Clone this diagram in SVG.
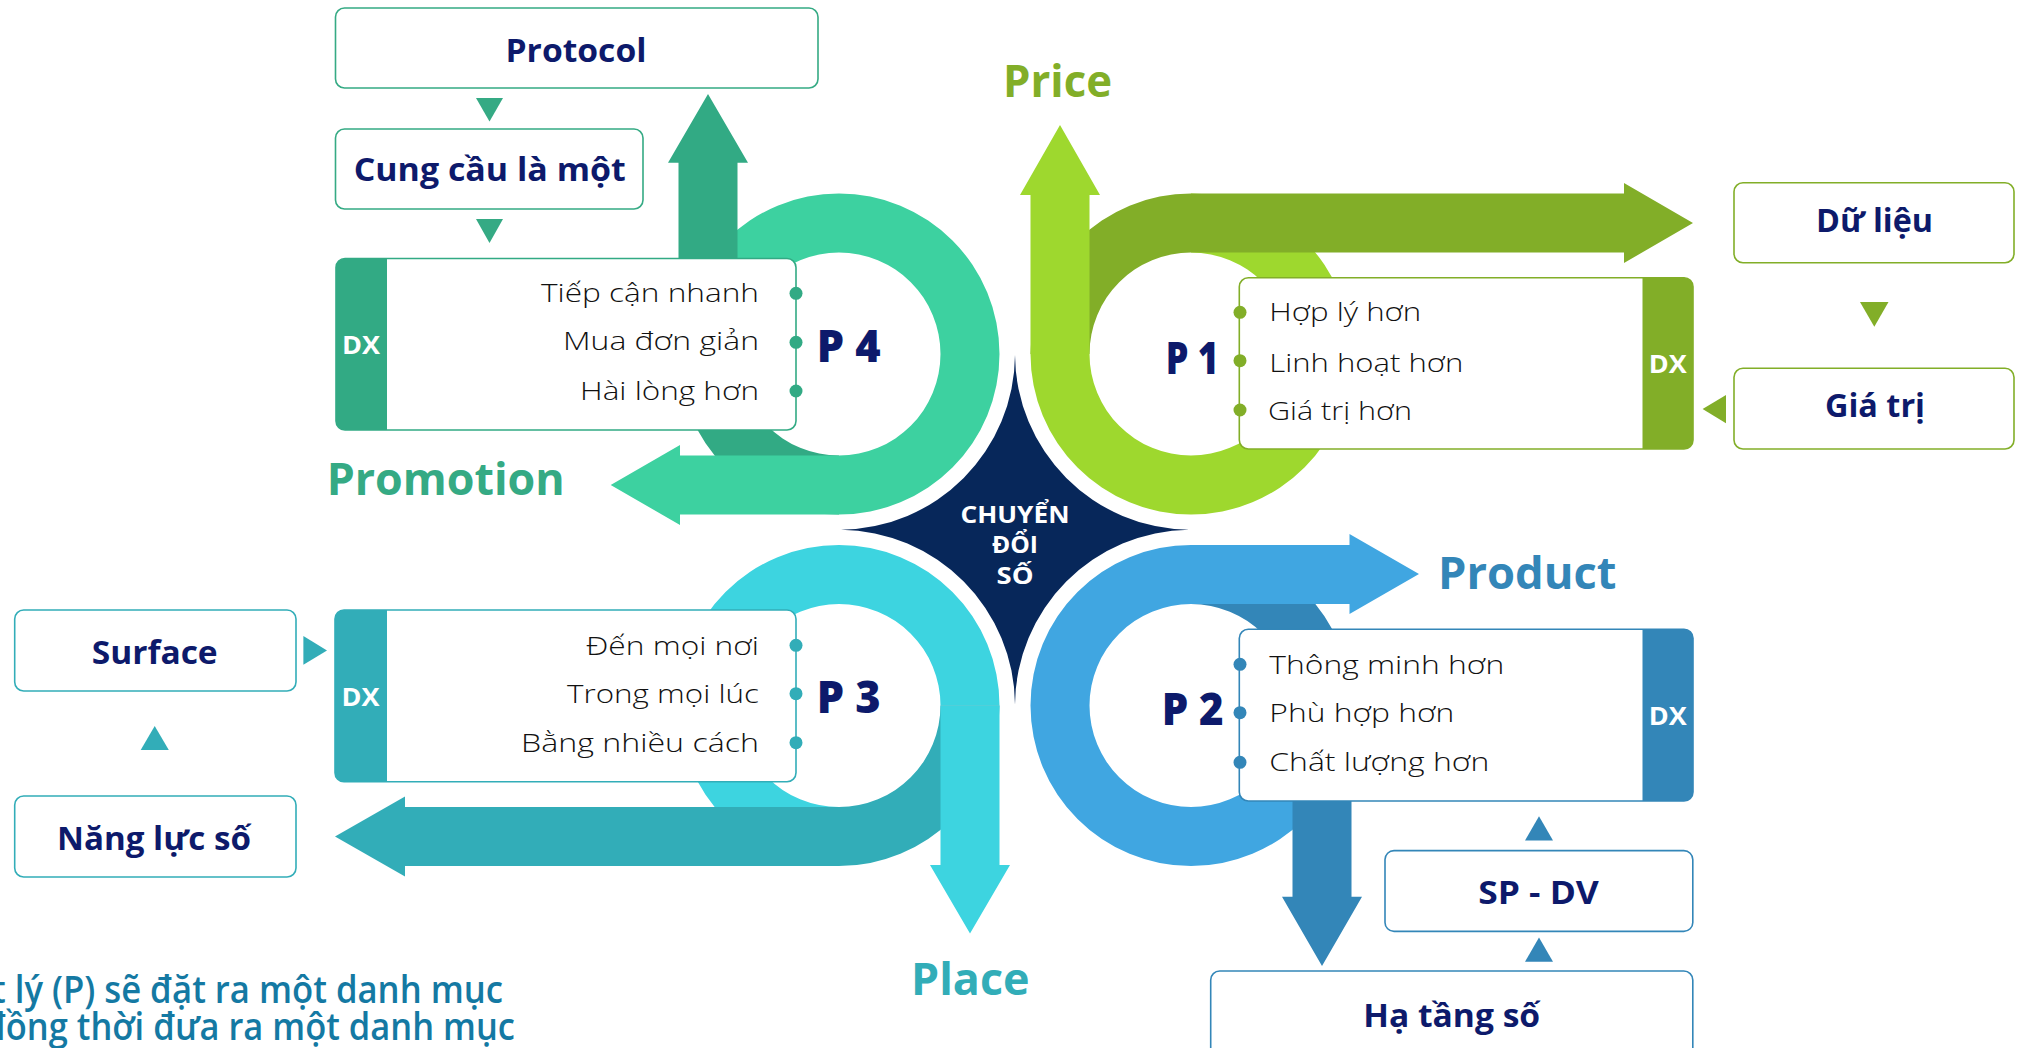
<svg xmlns="http://www.w3.org/2000/svg" width="2023" height="1048" viewBox="0 0 2023 1048">
<style>
text{font-family:"Open Sans","Liberation Sans",Arial,sans-serif}
.lbl{font-weight:700;font-size:33px;fill:#0d1a6b;text-anchor:middle}
.item{font-weight:300;font-size:26px;fill:#111}
.end{text-anchor:end}
.pl{font-weight:800;font-size:44px;fill:#0d1a6b}
.dx{font-weight:700;font-size:25px;fill:#fff;text-anchor:middle}
.big{font-weight:700;font-size:44px}
.ctr{font-weight:700;font-size:24px;fill:#fff;text-anchor:middle}
.note{font-weight:600;font-size:37px;fill:#1479a3}
.box{fill:#fff;stroke-width:1.6}
</style>
<rect width="2023" height="1048" fill="#fff"/>

<g id="ring-p4">
<path fill="#32aa84" d="M678.5,354 A160.5,160.5 0 0 0 839,514.5 L839,455.5 A101.5,101.5 0 0 1 737.5,354 Z"/>
<path fill="#3dd1a0" d="M678.5,354 A160.5,160.5 0 1 1 839,514.5 L680,514.5 L680,525 L610.7,485 L680,445 L680,455.5 L839,455.5 A101.5,101.5 0 1 0 737.5,354 Z"/>
<path fill="#32aa84" d="M678.5,354 V162.7 H668 L708,94 L748,162.7 H737.5 V354 Z"/>
</g>
<g id="ring-p1">
<path fill="#9ed82e" d="M1030.5,354 A160.5,160.5 0 1 0 1191,193.5 L1191,252.5 A101.5,101.5 0 1 1 1089.5,354 Z"/>
<path fill="#82ae28" d="M1030.5,354 A160.5,160.5 0 0 1 1191,193.5 H1624 V183 L1693,223 L1624,263 V252.5 H1191 A101.5,101.5 0 0 0 1089.5,354 Z"/>
<path fill="#9ed82e" d="M1030.5,354 V195 H1020 L1060,125 L1100,195 H1089.5 V354 Z"/>
</g>
<g id="ring-p3">
<path fill="#3dd4e0" d="M999.5,705.5 A160.5,160.5 0 1 0 839,866 L839,807 A101.5,101.5 0 1 1 940.5,705.5 Z"/>
<path fill="#32adb8" d="M999.5,705.5 A160.5,160.5 0 0 1 839,866 H405 V876.5 L335,836.5 L405,796.5 V807 H839 A101.5,101.5 0 0 0 940.5,705.5 Z"/>
<path fill="#3dd4e0" d="M940.5,705.5 V865 H930 L970,933.5 L1010,865 H999.5 V705.5 Z"/>
</g>
<g id="ring-p2">
<path fill="#3386b8" d="M1191,545 A160.5,160.5 0 0 1 1351.5,705.5 L1292.5,705.5 A101.5,101.5 0 0 0 1191,604 Z"/>
<path fill="#40a6e1" d="M1191,545 H1349.5 V534 L1419,574 L1349.5,614 V604 H1191 A101.5,101.5 0 1 0 1292.5,705.5 L1351.5,705.5 A160.5,160.5 0 1 1 1191,545 Z"/>
<path fill="#3386b8" d="M1292.5,705.5 V896.7 H1282 L1322,966 L1362,896.7 H1351.5 V705.5 Z"/>
</g>

<g id="center">
<path fill="#07275a" d="M1015,355 A176,176 0 0 1 841,529.75 A176,176 0 0 1 1015,704.5 A176,176 0 0 1 1189,529.75 A176,176 0 0 1 1015,355 Z"/>
<text class="ctr" x="1015" y="522.7" textLength="109" lengthAdjust="spacingAndGlyphs">CHUYỂN</text>
<text class="ctr" x="1015" y="553.3" textLength="46" lengthAdjust="spacingAndGlyphs">ĐỔI</text>
<text class="ctr" x="1015" y="584" textLength="37" lengthAdjust="spacingAndGlyphs">SỐ</text>
</g>

<g id="p4">
<rect class="box" x="336" y="258.5" width="460" height="171.5" rx="9" stroke="#32aa84"/>
<path fill="#32aa84" d="M345,258.5 H387 V430 H345 A9,9 0 0 1 336,421 V267.5 A9,9 0 0 1 345,258.5 Z"/>
<text class="dx" x="361" y="354" textLength="38" lengthAdjust="spacingAndGlyphs">DX</text>
<text class="item end" x="759" y="301.7" textLength="218" lengthAdjust="spacingAndGlyphs">Tiếp cận nhanh</text>
<text class="item end" x="759" y="350" textLength="196" lengthAdjust="spacingAndGlyphs">Mua đơn giản</text>
<text class="item end" x="759" y="400" textLength="179" lengthAdjust="spacingAndGlyphs">Hài lòng hơn</text>
<g fill="#32aa84"><circle cx="796" cy="293.3" r="6.5"/><circle cx="796" cy="342.3" r="6.5"/><circle cx="796" cy="391" r="6.5"/></g>
<text class="pl" x="816.7" y="361.7" textLength="64" lengthAdjust="spacingAndGlyphs">P 4</text>
</g>

<g id="p1">
<rect class="box" x="1239.3" y="277.7" width="453.7" height="171.3" rx="9" stroke="#82ae28"/>
<path fill="#82ae28" d="M1642.5,277.7 H1684 A9,9 0 0 1 1693,286.7 V440 A9,9 0 0 1 1684,449 H1642.5 Z"/>
<text class="dx" x="1667.7" y="373" textLength="38" lengthAdjust="spacingAndGlyphs">DX</text>
<text class="item" x="1269.3" y="321" textLength="152" lengthAdjust="spacingAndGlyphs">Hợp lý hơn</text>
<text class="item" x="1269.3" y="371.7" textLength="194" lengthAdjust="spacingAndGlyphs">Linh hoạt hơn</text>
<text class="item" x="1268" y="420" textLength="144" lengthAdjust="spacingAndGlyphs">Giá trị hơn</text>
<g fill="#82ae28"><circle cx="1240" cy="312.3" r="6.5"/><circle cx="1240" cy="360.7" r="6.5"/><circle cx="1240" cy="410" r="6.5"/></g>
<text class="pl" x="1165.7" y="374" textLength="53" lengthAdjust="spacingAndGlyphs">P 1</text>
</g>

<g id="p3">
<rect class="box" x="335" y="610" width="461" height="171.7" rx="9" stroke="#32adb8"/>
<path fill="#32adb8" d="M344,610 H387 V781.7 H344 A9,9 0 0 1 335,772.7 V619 A9,9 0 0 1 344,610 Z"/>
<text class="dx" x="360.5" y="706" textLength="38" lengthAdjust="spacingAndGlyphs">DX</text>
<text class="item end" x="759" y="655" textLength="173" lengthAdjust="spacingAndGlyphs">Đến mọi nơi</text>
<text class="item end" x="759" y="703.3" textLength="192" lengthAdjust="spacingAndGlyphs">Trong mọi lúc</text>
<text class="item end" x="759" y="751.7" textLength="238" lengthAdjust="spacingAndGlyphs">Bằng nhiều cách</text>
<g fill="#32adb8"><circle cx="796" cy="645.3" r="6.5"/><circle cx="796" cy="693.7" r="6.5"/><circle cx="796" cy="742.7" r="6.5"/></g>
<text class="pl" x="816.7" y="713.3" textLength="64" lengthAdjust="spacingAndGlyphs">P 3</text>
</g>

<g id="p2">
<rect class="box" x="1239.3" y="629.3" width="453.7" height="171.7" rx="9" stroke="#3386b8"/>
<path fill="#3386b8" d="M1642.5,629.3 H1684 A9,9 0 0 1 1693,638.3 V792 A9,9 0 0 1 1684,801 H1642.5 Z"/>
<text class="dx" x="1667.7" y="724.7" textLength="38" lengthAdjust="spacingAndGlyphs">DX</text>
<text class="item" x="1269.3" y="674" textLength="235" lengthAdjust="spacingAndGlyphs">Thông minh hơn</text>
<text class="item" x="1269.3" y="722.3" textLength="185" lengthAdjust="spacingAndGlyphs">Phù hợp hơn</text>
<text class="item" x="1269.3" y="770.7" textLength="220" lengthAdjust="spacingAndGlyphs">Chất lượng hơn</text>
<g fill="#3386b8"><circle cx="1240" cy="664.3" r="6.5"/><circle cx="1240" cy="712.7" r="6.5"/><circle cx="1240" cy="762.3" r="6.5"/></g>
<text class="pl" x="1161.7" y="725" textLength="62" lengthAdjust="spacingAndGlyphs">P 2</text>
</g>

<g id="titles">
<text class="big" x="1003" y="97.3" fill="#82ae28" textLength="109" lengthAdjust="spacingAndGlyphs">Price</text>
<text class="big" x="326.7" y="494.8" fill="#35aa84" textLength="238" lengthAdjust="spacingAndGlyphs">Promotion</text>
<text class="big" x="1438" y="589" fill="#3386b8" textLength="178.5" lengthAdjust="spacingAndGlyphs">Product</text>
<text class="big" x="911" y="994.7" fill="#32adb8" textLength="118.5" lengthAdjust="spacingAndGlyphs">Place</text>
</g>

<g id="protocol">
<rect class="box" x="335.5" y="8" width="482.5" height="80" rx="9" stroke="#35aa84"/>
<text class="lbl" x="576" y="62" textLength="141" lengthAdjust="spacingAndGlyphs">Protocol</text>
</g>
<g id="cung-cau">
<rect class="box" x="335.5" y="129" width="307.5" height="80" rx="9" stroke="#35aa84"/>
<text class="lbl" x="489.7" y="181" textLength="272" lengthAdjust="spacingAndGlyphs">Cung cầu là một</text>
</g>
<g id="du-lieu">
<rect class="box" x="1734" y="182.7" width="280" height="80" rx="9" stroke="#82ae28"/>
<text class="lbl" x="1874.5" y="231.7" textLength="117" lengthAdjust="spacingAndGlyphs">Dữ liệu</text>
</g>
<g id="gia-tri">
<rect class="box" x="1734" y="368.3" width="280" height="80.7" rx="9" stroke="#82ae28"/>
<text class="lbl" x="1875" y="416.7" textLength="100" lengthAdjust="spacingAndGlyphs">Giá trị</text>
</g>
<g id="sp-dv">
<rect class="box" x="1385" y="850.6" width="307.8" height="80.8" rx="9" stroke="#3386b8"/>
<text class="lbl" x="1538.5" y="903.8" textLength="120.7" lengthAdjust="spacingAndGlyphs">SP - DV</text>
</g>
<g id="ha-tang-so">
<rect class="box" x="1210.7" y="971" width="482.1" height="100" rx="9" stroke="#3386b8"/>
<text class="lbl" x="1451.7" y="1026.7" textLength="177" lengthAdjust="spacingAndGlyphs">Hạ tầng số</text>
</g>
<g id="surface">
<rect class="box" x="14.7" y="610" width="281.3" height="81" rx="9" stroke="#32adb8"/>
<text class="lbl" x="154.7" y="664" textLength="126" lengthAdjust="spacingAndGlyphs">Surface</text>
</g>
<g id="nang-luc-so">
<rect class="box" x="14.7" y="796" width="281.3" height="81" rx="9" stroke="#32adb8"/>
<text class="lbl" x="154" y="850" textLength="194" lengthAdjust="spacingAndGlyphs">Năng lực số</text>
</g>

<g id="connectors">
<polygon fill="#35aa84" points="476,98 503,98 489.5,121.4"/>
<polygon fill="#35aa84" points="476,219 503,219 489.5,243"/>
<polygon fill="#82ae28" points="1860,302 1888.5,302 1874.3,326.7"/>
<polygon fill="#82ae28" points="1726,395 1726,423.3 1702.6,409"/>
<polygon fill="#3386b8" points="1525,840.5 1553,840.5 1539,816.3"/>
<polygon fill="#3386b8" points="1525,961.8 1553,961.8 1539,937.5"/>
<polygon fill="#32adb8" points="303.4,636 303.4,664.8 327,650.4"/>
<polygon fill="#32adb8" points="140.7,750 168.8,750 154.7,726"/>
</g>

<g id="note">
<text class="note" x="-8" y="1002.7" textLength="511" lengthAdjust="spacingAndGlyphs">t lý (P) sẽ đặt ra một danh mục</text>
<text class="note" x="-16" y="1040" textLength="531" lengthAdjust="spacingAndGlyphs">đồng thời đưa ra một danh mục</text>
</g>
</svg>
